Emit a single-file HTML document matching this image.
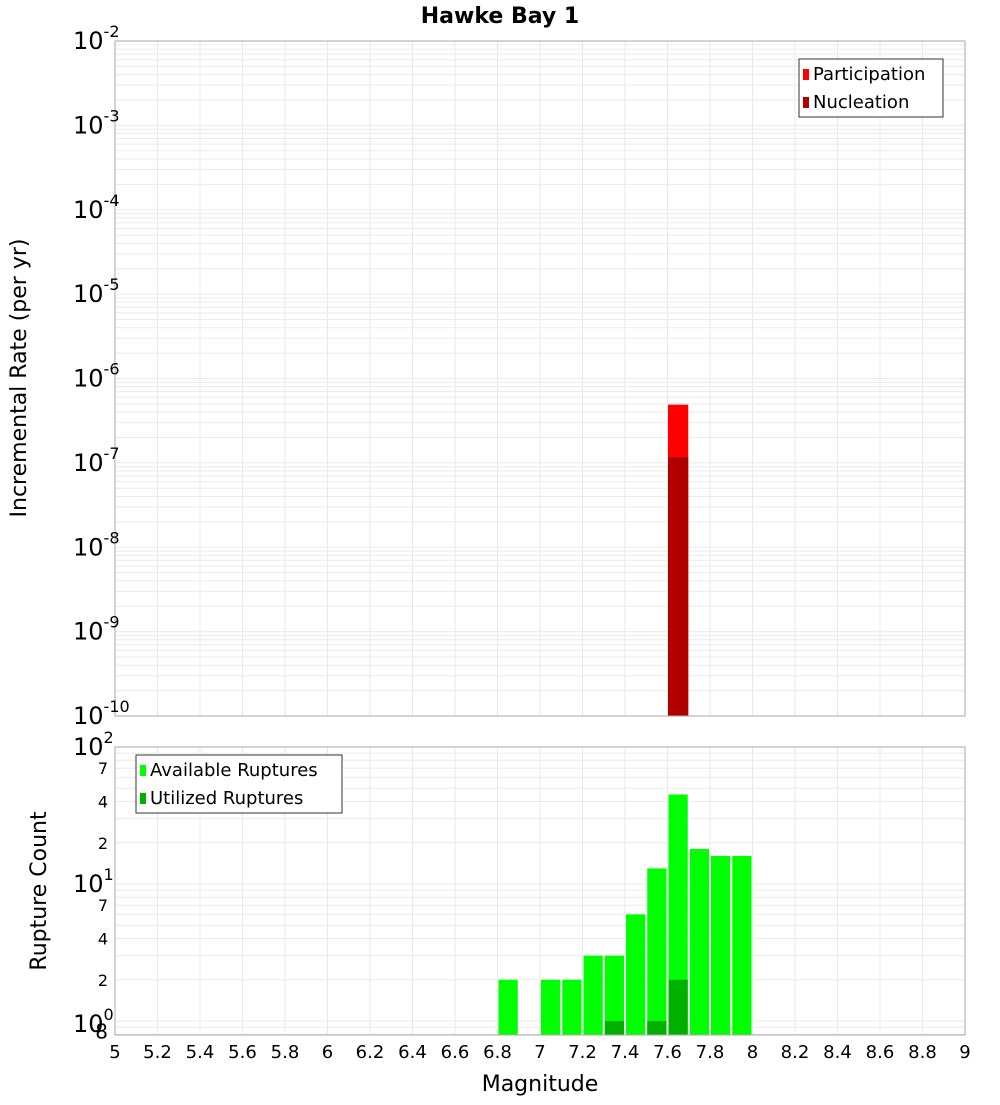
<!DOCTYPE html>
<html><head><meta charset="utf-8"><style>
body{margin:0;background:#fff;font-family:"Liberation Sans","DejaVu Sans",sans-serif}
svg text{font-family:"DejaVu Sans","Liberation Sans",sans-serif}
</style></head><body>
<svg id="c" width="1000" height="1100" xmlns="http://www.w3.org/2000/svg"></svg>
<script>
const binStarts=[6.8,7.0,7.1,7.2,7.3,7.4,7.5,7.6,7.7,7.8,7.9];
const availableCounts=[2,2,2,3,3,6,13,45,18,16,16];
const utilizedBins=[7.3,7.5,7.6];
const utilizedCounts=[1,1,2];
const rateBins=[7.6];
const participationRates=[4.9e-7];
const nucleationRates=[1.17e-7];
const xTicks=[5,5.2,5.4,5.6,5.8,6,6.2,6.4,6.6,6.8,7,7.2,7.4,7.6,7.8,8,8.2,8.4,8.6,8.8,9];

const svg=document.getElementById('c');const NS='http://www.w3.org/2000/svg';
function el(t,a,p){const e=document.createElementNS(NS,t);for(const k in a)e.setAttribute(k,a[k]);(p||svg).appendChild(e);return e;}
const X0=115,X1=965;
const x=v=>X0+(v-5)/4*(X1-X0);
const T0=41,T1=716;const yT=v=>T0+(-2-Math.log10(v))/8*(T1-T0);
const B0=747,B1=1035;const yB=v=>B0+(2-Math.log10(v))*137;

// title
let t=el('text',{x:500,y:23,'text-anchor':'middle','font-size':22,'font-weight':'bold'});t.textContent='Hawke Bay 1';



function grid(y0,y1,yf,lo,hi,name){
  const g=el('g',{});
  
  
  for(const v of xTicks){el('line',{x1:x(v),x2:x(v),y1:y0,y2:y1,stroke:'#e8e8e8'},g);}
  for(let d=lo;d<hi;d++)for(let m=1;m<10;m++){const v=m*Math.pow(10,d);const yy=yf(v);if(yy<y0||yy>y1)continue;el('line',{x1:X0,x2:X1,y1:yy,y2:yy,stroke:'#ebebeb'},g);}
}
grid(T0,T1,yT,-10,-2,'top-grid');
grid(B0,B1,yB,-1,2,'bottom-grid');

// top bars
rateBins.forEach((b,i)=>{
  let r=el('rect',{x:x(b)+0.5,y:yT(participationRates[i]),width:x(b+0.1)-x(b)-1,height:T1-yT(participationRates[i]),fill:'#ff0000'});
  
  
  r=el('rect',{x:x(b)+0.5,y:yT(nucleationRates[i]),width:x(b+0.1)-x(b)-1,height:T1-yT(nucleationRates[i]),fill:'#b00000'});
  
  
});
// bottom bars
binStarts.forEach((b,i)=>{
  const r=el('rect',{x:x(b)+1,y:yB(availableCounts[i]),width:x(b+0.1)-x(b)-2,height:B1-yB(availableCounts[i]),fill:'#00ff00'});
  
  
});
utilizedBins.forEach((b,i)=>{
  const r=el('rect',{x:x(b)+1,y:yB(utilizedCounts[i]),width:x(b+0.1)-x(b)-2,height:B1-yB(utilizedCounts[i]),fill:'#00b000'});
  
  
});
// frames
el('rect',{x:X0,y:T0,width:X1-X0,height:T1-T0,fill:'none',stroke:'#aaa'});
el('rect',{x:X0,y:B0,width:X1-X0,height:B1-B0,fill:'none',stroke:'#aaa'});

// top y labels
for(let d=-10;d<=-2;d++){
  const yy=yT(Math.pow(10,d));
  const tx=el('text',{x:108,y:yy+8,'text-anchor':'end','font-size':24});
  
  
  tx.innerHTML='10<tspan dy="-12" font-size="16">'+d+'</tspan>';
  tx.setAttribute('x',73);tx.setAttribute('text-anchor','start');
}
// bottom y labels
[[100,'2'],[10,'1'],[1,'0']].forEach(([v,e])=>{
  const yy=yB(v);
  const tx=el('text',{x:73,y:yy+8+(v==1?3:0),'font-size':24});
  
  
  tx.innerHTML='10<tspan dy="-12" font-size="16">'+e+'</tspan>';
});
[[70,'7'],[40,'4'],[20,'2'],[7,'7'],[4,'4'],[2,'2'],[0.8,'8']].forEach(([v,s])=>{
  const tx=el('text',{x:108,y:yB(v)+6+(v==0.8?-2:0),'text-anchor':'end','font-size':v==0.8?20:16});
  tx.textContent=s;
  
  
});
// x ticks
xTicks.forEach(v=>{
  const tx=el('text',{x:x(v),y:1058,'text-anchor':'middle','font-size':18});
  tx.textContent=String(v);
  
  
});
t=el('text',{x:540,y:1091,'text-anchor':'middle','font-size':22});t.textContent='Magnitude';


t=el('text',{x:0,y:0,'text-anchor':'middle','font-size':22,transform:'translate(26,378) rotate(-90)'});t.textContent='Incremental Rate (per yr)';


t=el('text',{x:0,y:0,'text-anchor':'middle','font-size':22,transform:'translate(46,891) rotate(-90)'});t.textContent='Rupture Count';



// legends
function legend(x0,y0,w,items,name){
  const g=el('g',{});
  
  
  el('rect',{x:x0,y:y0,width:w,height:58,fill:'#fff',stroke:'#333'},g);
  items.forEach(([c,s],i)=>{
    el('rect',{x:x0+4,y:y0+10+i*28,width:6,height:11,fill:c},g);
    const tx=el('text',{x:x0+14,y:y0+21+i*28,'font-size':18},g);tx.textContent=s;
  });
}
legend(799,59,144,[['#ff0000','Participation'],['#b00000','Nucleation']],'top-legend');
legend(136,755,206,[['#00ff00','Available Ruptures'],['#00b000','Utilized Ruptures']],'bottom-legend');
</script>
</body></html>
